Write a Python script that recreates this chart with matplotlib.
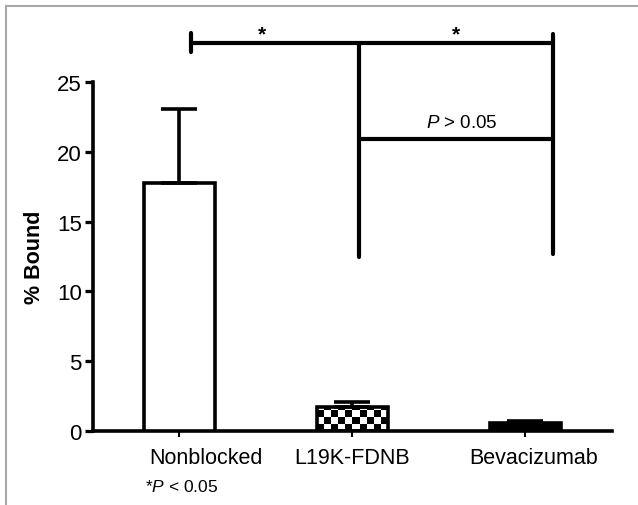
import numpy as np
import matplotlib
matplotlib.use("Agg")
import matplotlib.pyplot as plt
from matplotlib.lines import Line2D

plt.rcParams['font.family'] = ['Liberation Sans', 'DejaVu Sans']
plt.rcParams['mathtext.fontset'] = 'custom'
plt.rcParams['mathtext.rm'] = 'Liberation Sans'
plt.rcParams['mathtext.it'] = 'Liberation Sans:italic'

groups = ['Nonblocked', 'L19K-FDNB', 'Bevacizumab']
bound = [17.8, 1.75, 0.55]
err = [5.25, 0.3, 0.2]
y_ticks = [0, 5, 10, 15, 20, 25]

fig = plt.figure(figsize=(6.38, 5.06), dpi=100)
ax = fig.add_axes([0.1458, 0.1462, 0.959 - 0.1458, 0.836 - 0.1462])

lw = 2.6
x = np.arange(len(groups))
w = 0.41

# bars
b0 = ax.bar(x[0], bound[0], w, color='white', edgecolor='black', linewidth=lw, zorder=3)
b1 = ax.bar(x[1], bound[1], w, color='none', edgecolor='black', linewidth=lw, zorder=3)
b2 = ax.bar(x[2], bound[2], w, color='black', edgecolor='black', linewidth=lw, zorder=3)

# checkerboard fill for L19K-FDNB
checker = np.indices((4, 10)).sum(axis=0) % 2
im = ax.imshow(checker, cmap='gray', extent=(x[1] - w / 2, x[1] + w / 2, 0, 2.0),
               aspect='auto', interpolation='nearest', zorder=2, origin='lower')
im.set_clip_path(b1.patches[0])

# error bars (upper only)
ax.errorbar(x, bound, yerr=[np.zeros(3), err], fmt='none', ecolor='black',
            elinewidth=lw, capsize=13, capthick=lw, zorder=4)

ax.set_xlim(-0.5, 2.5)
ax.set_ylim(0, 25)
ax.set_yticks(y_ticks)
ax.set_yticklabels([str(v) for v in y_ticks], fontsize=16)
ax.set_xticks(x)
ax.set_xticklabels([])
ax.tick_params(axis='y', length=6, width=lw * 0.9, pad=2)
ax.tick_params(axis='x', length=4, width=1.5)
for s in ['top', 'right']:
    ax.spines[s].set_visible(False)
for s in ['left', 'bottom']:
    ax.spines[s].set_linewidth(lw)
ax.set_ylabel('% Bound', fontsize=15.5, fontweight='bold', labelpad=9)

# category labels
label_x = [0.155, 1.0, 2.045]
for lx, g in zip(label_x, groups):
    ax.text(lx, -1.9, g, ha='center', va='center', fontsize=15.5, clip_on=False)
ax.text(-0.2, -3.95, '*$\\mathit{P}$ < 0.05', ha='left', va='center', fontsize=12.5, clip_on=False)

# significance brackets
bk = dict(color='black', linewidth=3, solid_capstyle='round', clip_on=False, zorder=5)
ax.plot([0.064, 2.16], [27.8, 27.8], **bk)
ax.plot([0.064, 0.064], [27.15, 28.5], **bk)
ax.plot([1.04, 1.04], [12.45, 27.8], **bk)
ax.plot([2.16, 2.16], [12.7, 28.45], **bk)
ax.plot([1.04, 2.16], [20.95, 20.95], **bk)
ax.text(0.475, 28.45, '*', ha='center', va='center', fontsize=15, fontweight='bold', clip_on=False)
ax.text(1.6, 28.45, '*', ha='center', va='center', fontsize=15, fontweight='bold', clip_on=False)
ax.text(1.63, 22.1, '$\\mathit{P}$ > 0.05', ha='center', va='center', fontsize=13.5, clip_on=False)

# light frame
fig.add_artist(Line2D([6 / 638, 6 / 638], [0, 1 - 7 / 506], color='#a8a8a8', linewidth=1.5))
fig.add_artist(Line2D([6 / 638, 1], [1 - 7 / 506, 1 - 7 / 506], color='#a8a8a8', linewidth=1.5))

fig.savefig('out.png', dpi=100)
